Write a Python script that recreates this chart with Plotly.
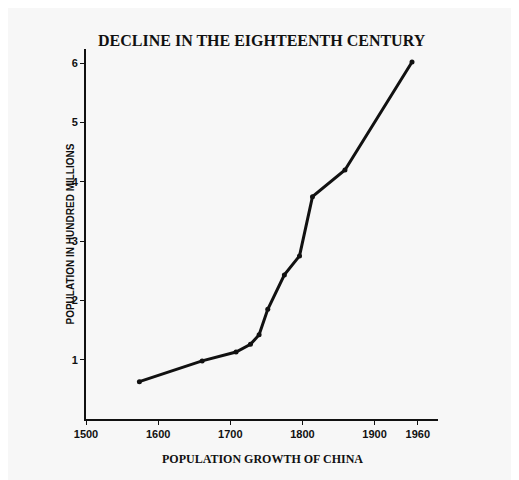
import plotly.graph_objects as go

years = [1574, 1661, 1708, 1728, 1740, 1752, 1775, 1796, 1814, 1859, 1952]
population = [0.63, 0.98, 1.13, 1.26, 1.42, 1.85, 2.43, 2.75, 3.75, 4.2, 6.02]
x_ticks = [1500, 1600, 1700, 1800, 1900, 1960]
y_ticks = [1, 2, 3, 4, 5, 6]

fig = go.Figure(go.Scatter(
    x=years, y=population, mode="lines+markers",
    line=dict(color="#111", width=3), marker=dict(color="#111", size=5),
    hoverinfo="skip"))

tickfont = dict(family="Liberation Sans Narrow, Liberation Sans, sans-serif", size=11, color="#111", weight="bold")
fig.update_layout(
    width=519, height=480, showlegend=False,
    paper_bgcolor="#f7f7f7", plot_bgcolor="#f7f7f7",
    margin=dict(l=78, r=89, t=41, b=69),
    xaxis=dict(range=[1500, 1988], tickvals=x_ticks, ticktext=[str(t) for t in x_ticks],
               showgrid=False, zeroline=False, showline=True, linecolor="#111", linewidth=2,
               ticks="outside", ticklen=4, tickwidth=1, tickcolor="#111", tickfont=tickfont),
    yaxis=dict(range=[0, 6.24], tickvals=y_ticks, showgrid=False, zeroline=False,
               showline=True, linecolor="#111", linewidth=2,
               ticks="outside", ticklen=4, tickwidth=1, tickcolor="#111", tickfont=tickfont),
    annotations=[
        dict(text="<b>DECLINE IN THE EIGHTEENTH CENTURY</b>", xref="paper", yref="paper",
             x=0.5, y=1, yshift=19, showarrow=False,
             font=dict(family="Liberation Serif, serif", size=16, color="#111")),
        dict(text="<b>POPULATION GROWTH OF CHINA</b>", xref="paper", yref="paper",
             x=0.5, y=0, yshift=-49, showarrow=False,
             font=dict(family="Liberation Serif, serif", size=12, color="#111")),
        dict(text="<b>POPULATION IN HUNDRED MILLIONS</b>", xref="paper", yref="paper",
             x=0, y=0.5, xshift=-24, textangle=-90, showarrow=False,
             font=dict(family="Liberation Sans Narrow, Liberation Sans, sans-serif", size=10, color="#111")),
    ],
)
fig.write_html("out.html")
